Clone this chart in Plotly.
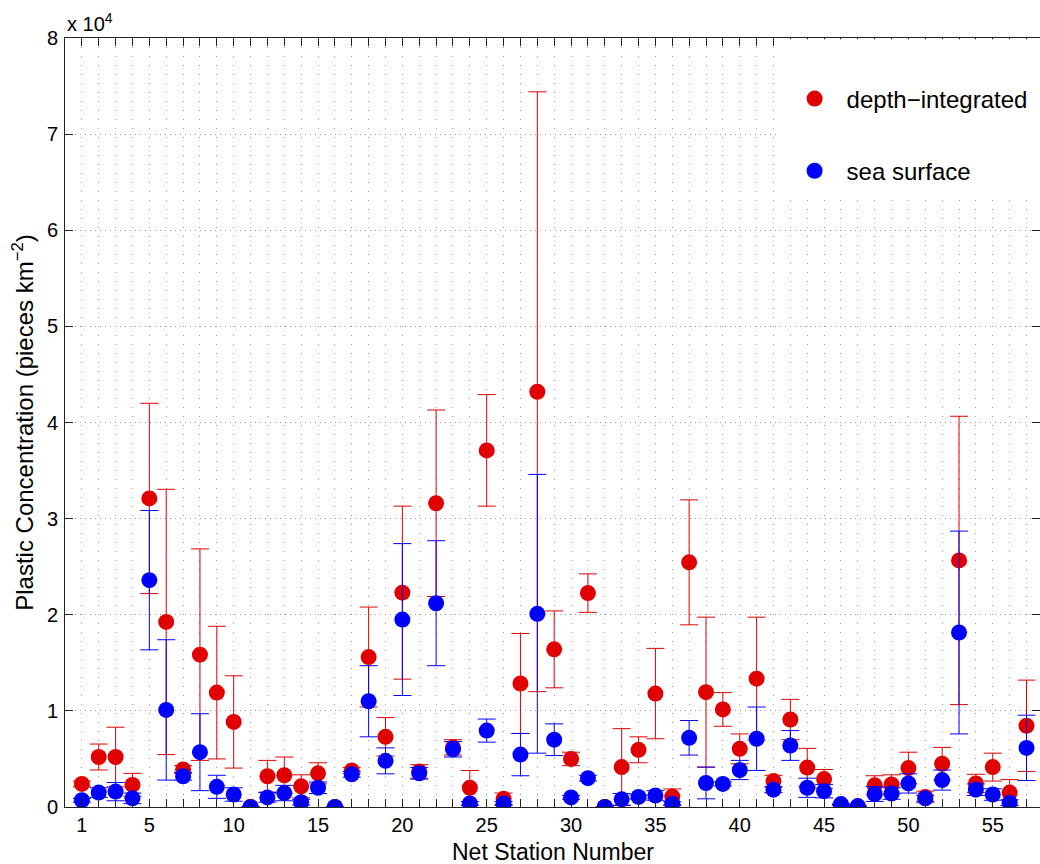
import plotly.graph_objects as go

stations = list(range(1, 58))

depth_integrated = [2400, 5200, 5200, 2300, 32100, 19250, 3900, 15850, 11900, 8850,
                    0, 3200, 3300, 2150, 3500, 0, 3800, 15600, 7300, 22300,
                    3700, 31600, 6200, 2000, 37100, 850, 12850, 43200, 16400, 5000,
                    22250, 0, 4150, 5950, 11800, 1080, 25450, 11950, 10150, 6050,
                    13350, 2700, 9100, 4100, 2900, 200, 0, 2250, 2350, 4050,
                    1050, 4500, 25650, 2450, 4150, 1500, 8450]
depth_err = [300, 1350, 3100, 1200, 9900, 13800, 400, 11000, 6900, 4800,
             0, 1650, 1900, 1200, 1100, 0, 300, 5200, 2000, 9000,
             700, 9700, 800, 1800, 5800, 600, 5200, 31200, 4000, 700,
             2000, 0, 4000, 1350, 4700, 800, 6500, 7800, 1750, 1550,
             6400, 600, 2100, 2000, 1000, 0, 0, 1000, 1000, 1650,
             600, 1700, 15000, 950, 1450, 1350, 4750]

sea_surface = [700, 1500, 1600, 900, 23600, 10100, 3200, 5700, 2100, 1300,
               0, 1000, 1450, 500, 2000, 0, 3400, 11000, 4800, 19500,
               3500, 21200, 6000, 370, 7950, 370, 5450, 20100, 7000, 1000,
               3000, 0, 800, 1050, 1200, 350, 7200, 2500, 2400, 3850,
               7100, 1800, 6400, 2000, 1650, 300, 100, 1350, 1400, 2450,
               900, 2800, 18150, 1800, 1300, 450, 6150]
surface_err = [200, 500, 950, 550, 7250, 7300, 400, 4000, 1200, 700,
               0, 500, 800, 300, 600, 0, 300, 3700, 1350, 7900,
               600, 6500, 800, 200, 1200, 200, 2200, 14500, 1650, 200,
               300, 0, 600, 200, 500, 200, 1800, 1650, 200, 1000,
               3300, 300, 1550, 1000, 700, 0, 0, 770, 600, 1000,
               300, 1040, 10550, 600, 600, 300, 3400]

x_labels = {1: "1", 5: "5", 10: "10", 15: "15", 20: "20", 25: "25",
            30: "30", 35: "35", 40: "40", 45: "45", 50: "50", 55: "55"}
y_tickvals = [0, 10000, 20000, 30000, 40000, 50000, 60000, 70000, 80000]
y_ticktext = ["0", "1", "2", "3", "4", "5", "6", "7", "8"]

RED = "#e00000"
BLUE = "#0000ff"
FONT = "Liberation Sans, Arial, Helvetica, sans-serif"

fig = go.Figure()
fig.add_trace(go.Scatter(
    x=stations, y=depth_integrated, mode="markers", name="depth\u2212integrated",
    legendgroup="a",
    marker=dict(color=RED, size=16, line=dict(width=0)),
    error_y=dict(type="data", array=depth_err, symmetric=True, color=RED,
                 thickness=1, width=9),
))
fig.add_trace(go.Scatter(
    x=stations, y=sea_surface, mode="markers", name="sea surface",
    legendgroup="b",
    marker=dict(color=BLUE, size=16, line=dict(width=0)),
    error_y=dict(type="data", array=surface_err, symmetric=True, color=BLUE,
                 thickness=1, width=9),
))

xt = list(range(1, 58))
fig.update_xaxes(
    range=[0, 57.8], tickmode="array", tickvals=xt,
    ticktext=[x_labels.get(v, "") for v in xt],
    ticks="inside", ticklen=8, tickcolor="#222", tickwidth=1,
    showline=True, linecolor="#222", linewidth=1, mirror="ticks",
    showgrid=True, gridcolor="#9a9a9a", griddash="1px,8px", gridwidth=1,
    zeroline=False, tickfont=dict(size=20, color="black", family=FONT),
    ticklabelstandoff=0,
)
fig.update_yaxes(
    range=[0, 80000], tickmode="array", tickvals=y_tickvals, ticktext=y_ticktext,
    ticks="inside", ticklen=8, tickcolor="#222", tickwidth=1,
    showline=True, linecolor="#222", linewidth=1, mirror="ticks",
    showgrid=True, gridcolor="#9a9a9a", griddash="1px,4px", gridwidth=1,
    zeroline=False, tickfont=dict(size=20, color="black", family=FONT),
    ticklabelstandoff=2,
    title=dict(text="Plastic Concentration (pieces km<sup>\u22122</sup>)",
               font=dict(size=24, color="black", family=FONT), standoff=6),
)

# white legend area covering the grid
fig.add_shape(type="rect", xref="x", yref="y", x0=42.2, x1=57.8, y0=63900, y1=79870,
              fillcolor="white", line=dict(width=0), layer="above")

fig.add_annotation(text="x 10<sup>4</sup>", xref="paper", yref="paper", x=0, y=1,
                   xanchor="left", yanchor="bottom", showarrow=False, yshift=1,
                   font=dict(size=20, color="black", family=FONT))

fig.add_annotation(text="Net Station Number", xref="paper", yref="paper",
                   x=0.5, y=-0.0585, xanchor="center", yanchor="middle",
                   showarrow=False, font=dict(size=23, color="black", family=FONT))

fig.update_layout(
    width=1040, height=864,
    margin=dict(l=65, r=0, t=38, b=57),
    plot_bgcolor="white", paper_bgcolor="white",
    font=dict(family=FONT, color="black"),
    showlegend=True,
    legend=dict(x=0.736, y=0.95, xanchor="left", yanchor="top",
                bgcolor="rgba(0,0,0,0)", borderwidth=0,
                font=dict(size=24, color="black", family=FONT),
                itemwidth=54, tracegroupgap=38, traceorder="grouped"),
)

fig.write_html("out.html")
